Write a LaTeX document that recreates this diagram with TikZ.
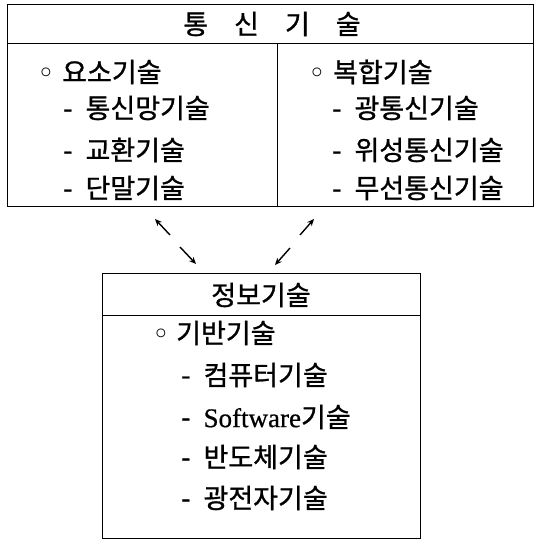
\documentclass[tikz,border=0pt]{standalone}
\usepackage{fontspec}
\setmainfont{Noto Sans CJK KR}[FakeBold=1.0]
\newfontfamily\latinfont{Liberation Serif}[FakeBold=0.6]
\newfontfamily\symfont{DejaVu Sans}
\usetikzlibrary{arrows.meta}
\newcommand{\bul}{{\symfont\fontsize{30}{30}\selectfont ◦}}
\begin{document}
\begin{tikzpicture}[x=1pt,y=-1pt,
  every node/.style={font=\fontsize{27}{30}\selectfont},
  boxpart/.style={draw, line width=1.2pt, anchor=north west, inner sep=0pt},
  line/.style={anchor=west, inner sep=0pt, execute at begin node={\spaceskip=13pt}},
  arr/.style={line width=1.4pt, -{Stealth[length=7pt,width=6pt]}}]
\useasboundingbox (0,0) rectangle (539,540);
% top box
\node[boxpart, minimum width=526pt, minimum height=39pt] (tchead) at (7,4) {};
\node (tctitle) at (272,24) {\spaceskip=26pt 통 신 기 술};
\node[boxpart, minimum width=270pt, minimum height=163pt] (tcleft) at (7,43) {};
\node[boxpart, minimum width=256pt, minimum height=163pt] (tcright) at (277,43) {};
% left column
\node[line] (lb) at (37,76) {\bul};
\node[line] (l0) at (62,72) {요소기술};
\node[line] (l1) at (63,108) {- 통신망기술};
\node[line] (l2) at (63,150) {- 교환기술};
\node[line] (l3) at (63,188) {- 단말기술};
% right column
\node[line] (rb) at (308,76) {\bul};
\node[line] (r0) at (333,72) {복합기술};
\node[line] (r1) at (332,108) {- 광통신기술};
\node[line] (r2) at (332,150) {- 위성통신기술};
\node[line] (r3) at (332,188) {- 무선통신기술};
% bottom box
\node[boxpart, minimum width=318pt, minimum height=42pt] (ithead) at (102,273) {};
\node (ittitle) at (261,295) {정보기술};
\node[boxpart, minimum width=318pt, minimum height=223pt] (itbody) at (102,315) {};
\node[line] (bb) at (152,337) {\bul};
\node[line] (b0) at (176,333) {기반기술};
\node[line] (b1) at (181,375) {- 컴퓨터기술};
\node[line] (b2) at (181,417) {- {\latinfont Software}기술};
\node[line] (b3) at (181,457) {- 반도체기술};
\node[line] (b4) at (181,498) {- 광전자기술};
% arrows
\coordinate (a1s) at (170,235); \coordinate (a1t) at (155,219);
\coordinate (a2s) at (180,247); \coordinate (a2t) at (196,264);
\coordinate (a3s) at (300,235); \coordinate (a3t) at (314,219);
\coordinate (a4s) at (290,248); \coordinate (a4t) at (275,265);
\draw[arr] (a1s) -- (a1t);
\draw[arr] (a2s) -- (a2t);
\draw[arr] (a3s) -- (a3t);
\draw[arr] (a4s) -- (a4t);
\end{tikzpicture}
\end{document}
